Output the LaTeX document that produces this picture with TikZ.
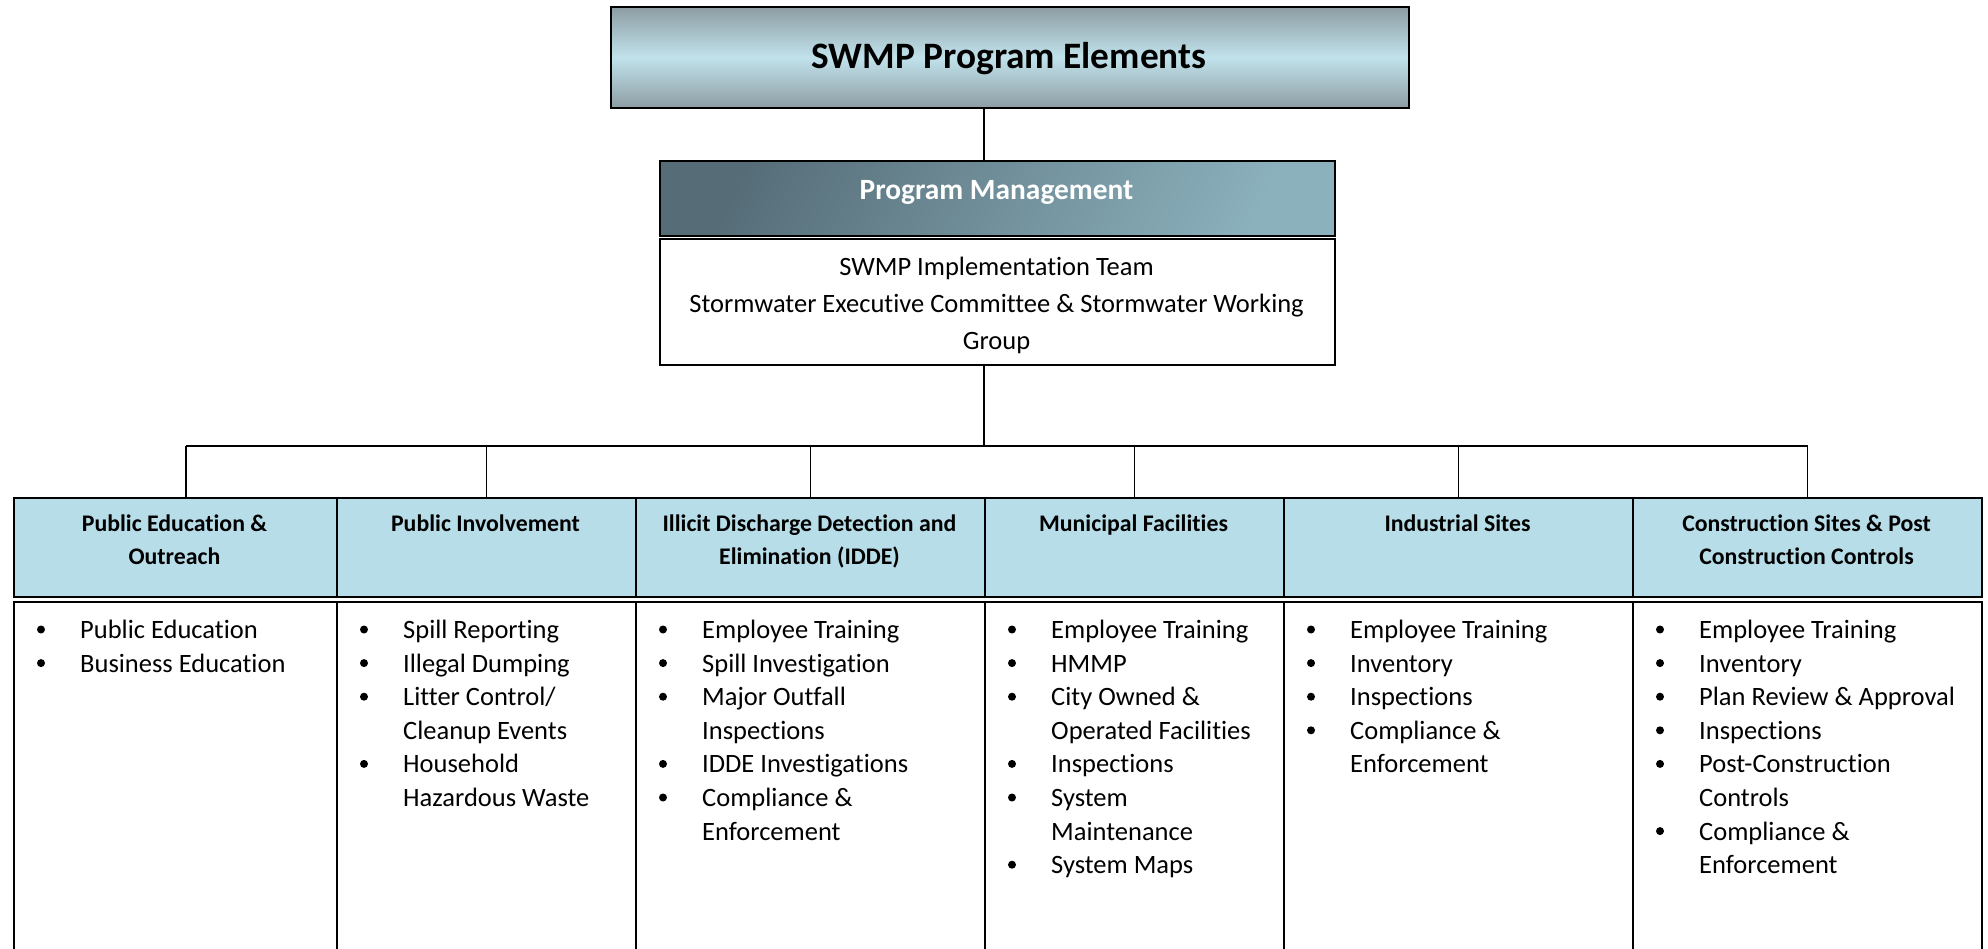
\documentclass[tikz,border=0pt]{standalone}
\usepackage{fontspec}
\setmainfont{Carlito}[Ligatures={NoCommon,NoContextual}]
\definecolor{hdr}{HTML}{B7DDE8}
\definecolor{tgEdge}{HTML}{8E9DA4}
\definecolor{tgMid}{HTML}{C0E2EB}
\definecolor{pmDark}{HTML}{566D78}
\definecolor{pmLight}{HTML}{8BB1BC}
\begin{document}
\begin{tikzpicture}[x=1pt,y=-1pt,
  box/.style={draw=black, line width=2pt, inner sep=0pt, anchor=north west},
  conn/.style={draw=black, line width=1.6pt},
  bodyfont/.style={font=\fontsize{26.5}{33.6}\selectfont, inner sep=0pt},
  hdrfont/.style={font=\fontsize{23.8}{33}\selectfont\bfseries, inner sep=0pt, anchor=base},
]
\useasboundingbox (0,0) rectangle (1988,949);
\clip (0,0) rectangle (1988,949);

% title
\node[box, minimum width=798pt, minimum height=101pt, top color=tgEdge, bottom color=tgEdge, middle color=tgMid] (title) at (610,6) {};
\node[anchor=base, inner sep=0pt, font=\fontsize{37.3}{40}\selectfont\bfseries] (titletext) at (1009,69) {SWMP Program Elements};

% program management
\node[box, minimum width=675pt, minimum height=75pt, left color=pmDark, right color=pmLight, shading angle=65] (pm) at (659,160) {};
\node[anchor=base, inner sep=0pt, text=white, font=\fontsize{29.4}{32}\selectfont\bfseries] (pmtext) at (996.5,199.5) {Program Management};

\node[box, fill=white, minimum width=675pt, minimum height=126pt] (wb) at (659,238) {};
\node[bodyfont, anchor=base] (wb1) at (996.5,276) {SWMP Implementation Team};
\node[bodyfont, anchor=base] (wb2) at (996.5,312.5) {Stormwater Executive Committee \& Stormwater Working};
\node[bodyfont, anchor=base] (wb3) at (996.5,349.5) {Group};

% headers and bodies
\foreach \L/\W [count=\c] in {13/323, 336/299, 635/349, 984/299, 1283/349, 1632/349} {
  \node[box, fill=hdr, minimum width=\W pt, minimum height=99pt] (h\c) at (\L,497) {};
  \node[box, fill=white, minimum width=\W pt, minimum height=400pt] (b\c) at (\L,601) {};
}

\node[hdrfont] (h1a) at (174.5,531.5) {Public Education \&};
\node[hdrfont] (h1b) at (174.5,564.5) {Outreach};
\node[hdrfont] (h2a) at (485.5,531.5) {Public Involvement};
\node[hdrfont] (h3a) at (809.5,531.5) {Illicit Discharge Detection and};
\node[hdrfont] (h3b) at (809.5,564.5) {Elimination (IDDE)};
\node[hdrfont] (h4a) at (1133.5,531.5) {Municipal Facilities};
\node[hdrfont] (h5a) at (1457.5,531.5) {Industrial Sites};
\node[hdrfont] (h6a) at (1806.5,531.5) {Construction Sites \& Post};
\node[hdrfont] (h6b) at (1806.5,564.5) {Construction Controls};

% bullet lists
\foreach \L/\items [count=\c] in {
  13/{b/Public Education, b/Business Education},
  336/{b/Spill Reporting, b/Illegal Dumping, b/{Litter Control/}, c/Cleanup Events, b/Household, c/Hazardous Waste},
  635/{b/Employee Training, b/Spill Investigation, b/Major Outfall, c/Inspections, b/IDDE Investigations, b/Compliance \&, c/Enforcement},
  984/{b/Employee Training, b/HMMP, b/City Owned \&, c/Operated Facilities, b/Inspections, b/System, c/Maintenance, b/System Maps},
  1283/{b/Employee Training, b/Inventory, b/Inspections, b/Compliance \&, c/Enforcement},
  1632/{b/Employee Training, b/Inventory, b/Plan Review \& Approval, b/Inspections, b/Post-Construction, c/Controls, b/Compliance \&, c/Enforcement}} {
  \foreach \k/\t [count=\i] in \items {
    \pgfmathsetmacro{\yy}{638.5+33.6*(\i-1)}
    \node[bodyfont, anchor=base west] (t\c-\i) at ({\L+67},\yy) {\t};
    \if\k b
      \fill ({\L+28},{\yy-9}) circle (4pt);
    \fi
  }
}

% connectors
\coordinate (trunk) at (984,0);
\coordinate (bus) at (984,446);
\coordinate (d1) at (186,497);
\draw[conn] (title.south -| trunk) -- (pm.north -| trunk);
\draw[conn] (wb.south -| trunk) -- (bus);
\draw[conn] (d1 |- bus) -- (h6.north |- bus);
\draw[conn] (d1 |- bus) -- (d1);
\foreach \c in {2,...,6} {
  \draw[conn] (h\c.north |- bus) -- (h\c.north);
}
\end{tikzpicture}
\end{document}
